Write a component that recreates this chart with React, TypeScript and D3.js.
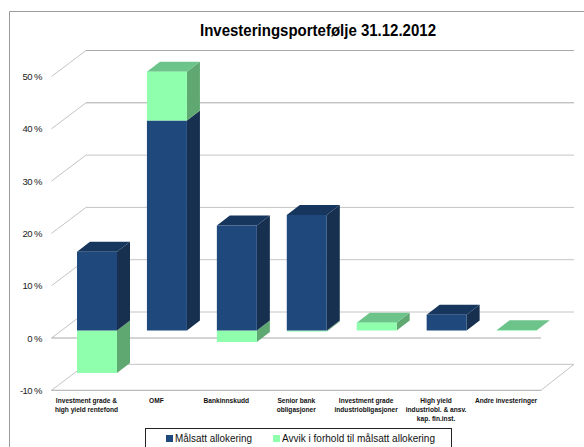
import React from "react";
import * as d3 from "d3";

const title = "Investeringsportefølje 31.12.2012";
const categories = [
  ["Investment grade &", "high yield rentefond"],
  ["OMF"],
  ["Bankinnskudd"],
  ["Senior bank", "obligasjoner"],
  ["Investment grade", "industriobligasjoner"],
  ["High yield", "industriobl. & ansv.", "kap. fin.inst."],
  ["Andre investeringer"],
];
const malsatt = [15, 40, 20, 22, 0, 3, 0];
const avvik = [-8.1, 9.3, -2.2, -0.2, 1.5, 0, 0.05];
const ticks = [-10, 0, 10, 20, 30, 40, 50];
const legendLabels = ["Målsatt allokering", "Avvik i forhold til målsatt allokering"];

const W = 584, H = 447;
const font = "'Liberation Sans', Arial, sans-serif";
const idx = categories.map((_, i) => i);
const x = d3.scaleBand<number>().domain(idx).range([51.5, 541]);
const y = d3.scaleLinear().domain([-10, 50]).range([390.3, 76.5]);
const yBar = d3.scaleLinear().domain([0, 40]).range([330.5, 120.5]);
const wallDx = 34.5, wallDy = -26;
const barW = 40, barOff = 25.5, barDx = 13, barDy = -10;

const blue = { front: "#1f497d", side: "#17304f", top: "#17365d" };
const green = { front: "#8fffae", side: "#5fa872", top: "#6cc48a" };

type Seg = { i: number; a: number; b: number; c: typeof blue; showTop: boolean };

function segments(i: number): Seg[] {
  const m = malsatt[i], v = avvik[i];
  const out: Seg[] = [];
  if (v < 0) out.push({ i, a: v, b: 0, c: green, showTop: false });
  if (m > 0) out.push({ i, a: 0, b: m, c: blue, showTop: v <= 0 });
  if (v > 0) out.push({ i, a: m, b: m + v, c: green, showTop: true });
  return out;
}

function Box({ s }: { s: Seg }) {
  const x0 = x(s.i)! + barOff, x1 = x0 + barW;
  const yT = yBar(s.b), yB = yBar(s.a);
  const pts = (p: number[][]) => p.map((q) => q.join(",")).join(" ");
  return (
    <g>
      <polygon points={pts([[x1, yT], [x1 + barDx, yT + barDy], [x1 + barDx, yB + barDy], [x1, yB]])} fill={s.c.side} />
      {s.showTop && (
        <polygon points={pts([[x0, yT], [x0 + barDx, yT + barDy], [x1 + barDx, yT + barDy], [x1, yT]])} fill={s.c.top} />
      )}
      <rect x={x0} y={yT} width={barW} height={Math.max(yB - yT, 0.5)} fill={s.c.front} />
    </g>
  );
}

export default function App() {
  const front0 = x.range()[0], front1 = x.range()[1];
  return (
    <svg width={W} height={H} style={{ position: "absolute", left: 0, top: 0, background: "#fff" }}>
      <path d={`M9.5 ${H}V11.5H${W}`} fill="none" stroke="#9a9a9a" />
      <text x={318} y={36} textAnchor="middle" fontFamily={font} fontWeight="bold" fontSize={17} textLength={236} lengthAdjust="spacingAndGlyphs" fill="#000">{title}</text>

      {ticks.map((t) => {
        const yy = y(t);
        return (
          <g key={t}>
            <line x1={front0 + wallDx} x2={574} y1={yy + wallDy} y2={yy + wallDy} stroke={t >= 40 ? "#a8a8a8" : "#c4c4c4"} strokeWidth={1} />
            <line x1={front0} x2={front0 + wallDx} y1={yy} y2={yy + wallDy} stroke="#c4c4c4" />
            <text x={42} y={yy + 3.5} textAnchor="end" fontFamily={font} fontSize={9.5} letterSpacing={-0.55} fill="#222">{`${t} %`}</text>
          </g>
        );
      })}
      <line x1={front0} x2={front1} y1={y(0)} y2={y(0)} stroke="#a8a8a8" />
      <line x1={front0} x2={front1} y1={y(-10)} y2={y(-10)} stroke="#a8a8a8" />
      <line x1={front1} x2={574} y1={y(-10)} y2={y(-10) + wallDy} stroke="#c4c4c4" />

      {idx.flatMap((i) => segments(i).map((s, k) => <Box key={`${i}-${k}`} s={s} />))}

      {categories.map((lines, i) => (
        <text key={i} textAnchor="middle" fontFamily={font} fontWeight="bold" fontSize={6.6} fill="#111">
          {lines.map((l, k) => (
            <tspan key={k} x={x(i)! + x.bandwidth() / 2} y={402.5 + k * 9.3}>{l}</tspan>
          ))}
        </text>
      ))}

      <rect x={145.5} y={428.5} width={306} height={19} fill="#fff" stroke="#222" />
      <rect x={166} y={435} width={7} height={7} fill={blue.front} />
      <text x={175} y={442} fontFamily={font} fontSize={11.5} fill="#111" textLength={77} lengthAdjust="spacingAndGlyphs">{legendLabels[0]}</text>
      <rect x={273} y={435} width={7} height={7} fill={green.front} />
      <text x={282} y={442} fontFamily={font} fontSize={11.5} fill="#111" textLength={153} lengthAdjust="spacingAndGlyphs">{legendLabels[1]}</text>
    </svg>
  );
}
